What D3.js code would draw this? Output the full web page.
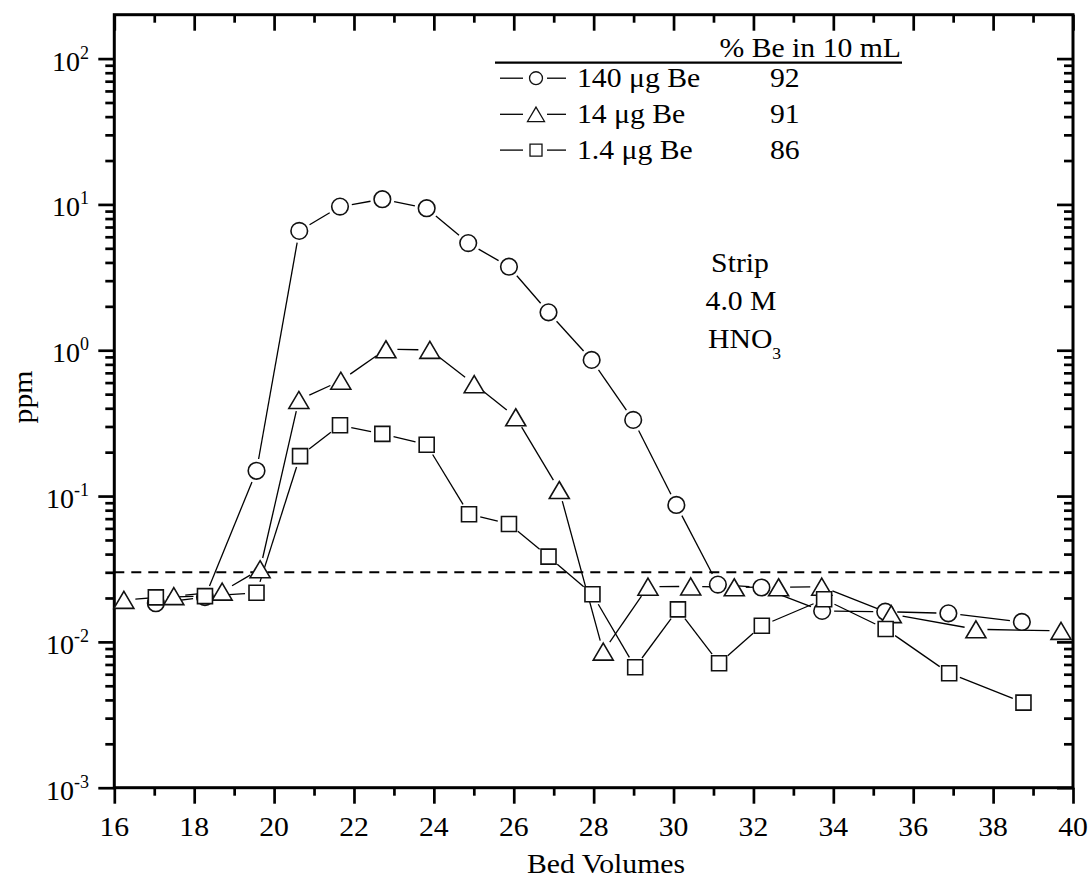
<!DOCTYPE html>
<html>
<head>
<meta charset="utf-8">
<script src="https://cdn.jsdelivr.net/npm/d3@7"></script>
<style>
  body { margin: 0; background: #fff; }
  svg { display: block; }
  text { font-family: "Liberation Serif", "Times New Roman", Times, serif; fill: #000; }
</style>
</head>
<body>
<svg id="chart" width="1091" height="880"></svg>
<script>
// Bed volumes and Be concentration (ppm) for each loading
const bedVolumes140 = [17.04, 18.27, 19.56, 20.63, 21.65, 22.71, 23.82, 24.86, 25.88, 26.87, 27.95, 28.99, 30.07, 31.11, 32.20, 33.72, 35.30, 36.88, 38.72];
const ppm140        = [0.0184, 0.0203, 0.149, 6.58, 9.66, 10.86, 9.42, 5.43, 3.74, 1.82, 0.858, 0.333, 0.0869, 0.0247, 0.0236, 0.0163, 0.0161, 0.0157, 0.0137];

const bedVolumes14  = [16.24, 17.49, 18.70, 19.65, 20.62, 21.67, 22.80, 23.90, 25.01, 26.05, 27.14, 28.24, 29.36, 30.43, 31.52, 32.63, 33.71, 35.45, 37.57, 39.70];
const ppm14         = [0.0194, 0.0206, 0.0221, 0.0315, 0.456, 0.618, 1.016, 1.005, 0.585, 0.347, 0.110, 0.00857, 0.0239, 0.0240, 0.0237, 0.0237, 0.0239, 0.0155, 0.0122, 0.0119];

const bedVolumes1_4 = [17.04, 18.27, 19.56, 20.65, 21.65, 22.71, 23.82, 24.88, 25.88, 26.87, 27.97, 29.04, 30.11, 31.14, 32.21, 33.77, 35.31, 36.90, 38.76];
const ppm1_4        = [0.0202, 0.0206, 0.0217, 0.188, 0.306, 0.267, 0.225, 0.0750, 0.0644, 0.0384, 0.0212, 0.0067, 0.0167, 0.00713, 0.0129, 0.0196, 0.01225, 0.0061, 0.00383];

// Detection limit line
const detectionLimit = 0.03;

// Legend content
const seriesLabels = ["140 μg Be", "14 μg Be", "1.4 μg Be"];
const recoveries   = ["92", "91", "86"];
const legendHeader = "% Be in 10 mL";
const stripLines   = ["Strip", "4.0 M"];

// Axis ticks
const xTicksMajor = [16, 18, 20, 22, 24, 26, 28, 30, 32, 34, 36, 38, 40];
const xTicksMinor = [17, 19, 21, 23, 25, 27, 29, 31, 33, 35, 37, 39];
const yDecades    = [1e-3, 1e-2, 1e-1, 1, 10, 100];
const yExponents  = ["-3", "-2", "-1", "0", "1", "2"];

const svg = d3.select("#chart");
const plotL = 114.3, plotR = 1073, plotT = 14.7, plotB = 787.7;

const x = d3.scaleLinear().domain([16, 40]).range([plotL, plotR]);
const y = d3.scaleLog().domain([1e-3, 200]).range([plotB, plotT]);

// minor log ticks (2..9 within each decade, inside the domain)
const yMinor = [];
yDecades.forEach(d => {
  for (let m = 2; m <= 9; m++) {
    const v = d * m;
    if (v < 200 * 0.999) yMinor.push(v);
  }
});

const SX = 1.1;
function label(g, str, px, py, size, anchor) {
  return g.append("text")
    .attr("transform", `translate(${px},${py}) scale(${SX},1)`)
    .attr("text-anchor", anchor)
    .attr("font-size", size)
    .text(str);
}

// ---- axes ----
const axisW = 2.7;
function styleAxis(g) {
  g.select(".domain").remove();
  g.selectAll(".tick line").attr("stroke", "#000").attr("stroke-width", axisW);
  g.selectAll(".tick text").remove();
}

svg.append("g").attr("transform", `translate(0,${plotB})`)
  .call(d3.axisBottom(x).tickValues(xTicksMajor).tickSize(16)).call(styleAxis);
svg.append("g").attr("transform", `translate(0,${plotB})`)
  .call(d3.axisBottom(x).tickValues(xTicksMinor).tickSize(8)).call(styleAxis);
svg.append("g").attr("transform", `translate(0,${plotT})`)
  .call(d3.axisTop(x).tickValues(xTicksMajor).tickSize(-16)).call(styleAxis);
svg.append("g").attr("transform", `translate(0,${plotT})`)
  .call(d3.axisTop(x).tickValues(xTicksMinor).tickSize(-8)).call(styleAxis);

svg.append("g").attr("transform", `translate(${plotL},0)`)
  .call(d3.axisLeft(y).tickValues(yDecades).tickSize(16)).call(styleAxis);
svg.append("g").attr("transform", `translate(${plotL},0)`)
  .call(d3.axisLeft(y).tickValues(yMinor).tickSize(9)).call(styleAxis);
svg.append("g").attr("transform", `translate(${plotR},0)`)
  .call(d3.axisRight(y).tickValues(yDecades).tickSize(-16)).call(styleAxis);
svg.append("g").attr("transform", `translate(${plotR},0)`)
  .call(d3.axisRight(y).tickValues(yMinor).tickSize(-9)).call(styleAxis);

// frame
svg.append("rect")
  .attr("x", plotL).attr("y", plotT)
  .attr("width", plotR - plotL).attr("height", plotB - plotT)
  .attr("fill", "none").attr("stroke", "#000").attr("stroke-width", 3);

// tick labels
const tickLabels = svg.append("g");
xTicksMajor.forEach(v => label(tickLabels, String(v), x(v), plotB + 48, 27, "middle"));

yDecades.forEach((v, i) => {
  const t = tickLabels.append("text")
    .attr("x", 89).attr("y", y(v) + 12)
    .attr("text-anchor", "end");
  t.append("tspan").attr("font-size", 28).text("10");
  t.append("tspan").attr("font-size", 18).attr("dy", -12).text(yExponents[i]);
});

// axis titles
label(svg, "Bed Volumes", 606, 873, 27, "middle");
svg.append("text")
  .attr("transform", `translate(32,397) rotate(-90) scale(${SX},1)`)
  .attr("text-anchor", "middle").attr("font-size", 27).text("ppm");

// detection limit
svg.append("line")
  .attr("x1", plotL).attr("x2", plotR)
  .attr("y1", y(detectionLimit)).attr("y2", y(detectionLimit))
  .attr("stroke", "#000").attr("stroke-width", 2)
  .attr("stroke-dasharray", "10,7");

// ---- series ----
function segments(xs, ys, gap) {
  const pts = xs.map((v, i) => [x(v), y(ys[i])]);
  const segs = [];
  for (let i = 0; i < pts.length - 1; i++) {
    const [x1, y1] = pts[i], [x2, y2] = pts[i + 1];
    const dx = x2 - x1, dy = y2 - y1, d = Math.hypot(dx, dy);
    if (d <= 2 * gap) continue;
    const ux = dx / d, uy = dy / d;
    segs.push([x1 + ux * gap, y1 + uy * gap, x2 - ux * gap, y2 - uy * gap]);
  }
  return segs;
}

const series = [
  { xs: bedVolumes140, ys: ppm140, shape: "circle", gap: 12 },
  { xs: bedVolumes14,  ys: ppm14,  shape: "triangle", gap: 11.5 },
  { xs: bedVolumes1_4, ys: ppm1_4, shape: "square", gap: 11.5 }
];

function markerPath(shape, s) {
  if (shape === "circle") {
    const r = 8.3 * s;
    return `M${-r},0A${r},${r} 0 1,0 ${r},0A${r},${r} 0 1,0 ${-r},0Z`;
  }
  if (shape === "triangle") {
    const w = 20 * s, h = 17 * s;
    return `M0,${-h / 2}L${w / 2},${h / 2}L${-w / 2},${h / 2}Z`;
  }
  const a = 7.5 * s;
  return `M${-a},${-a}H${a}V${a}H${-a}Z`;
}

const linesG = svg.append("g");
series.forEach(s => {
  linesG.selectAll(null)
    .data(segments(s.xs, s.ys, s.gap))
    .join("line")
    .attr("x1", d => d[0]).attr("y1", d => d[1])
    .attr("x2", d => d[2]).attr("y2", d => d[3])
    .attr("stroke", "#000").attr("stroke-width", 1.3);
});

series.forEach(s => {
  svg.append("g").selectAll("path")
    .data(s.xs.map((v, i) => [v, s.ys[i]]))
    .join("path")
    .attr("transform", d => `translate(${x(d[0])},${y(d[1])})`)
    .attr("d", markerPath(s.shape, 1))
    .attr("fill", "#fff").attr("stroke", "#111").attr("stroke-width", 1.6);
});

// ---- legend ----
const legend = svg.append("g");
label(legend, legendHeader, 901, 57, 27, "end");
legend.append("line")
  .attr("x1", 495).attr("x2", 902).attr("y1", 62.7).attr("y2", 62.7)
  .attr("stroke", "#000").attr("stroke-width", 2.2);

const rowBase = [86.7, 122.8, 158.6];
series.forEach((s, i) => {
  const cy = rowBase[i] - 8.5;
  legend.append("line").attr("x1", 500).attr("x2", 523).attr("y1", cy).attr("y2", cy)
    .attr("stroke", "#000").attr("stroke-width", 1.3);
  legend.append("line").attr("x1", 547).attr("x2", 566).attr("y1", cy).attr("y2", cy)
    .attr("stroke", "#000").attr("stroke-width", 1.3);
  legend.append("path")
    .attr("transform", `translate(536,${cy})`)
    .attr("d", markerPath(s.shape, s.shape === "circle" ? 0.78 : (s.shape === "triangle" ? 0.85 : 0.8)))
    .attr("fill", "#fff").attr("stroke", "#111").attr("stroke-width", 1.3);
  label(legend, seriesLabels[i], 577, rowBase[i], 27, "start");
  label(legend, recoveries[i], 770, rowBase[i], 27, "start");
});

// ---- strip conditions ----
const note = svg.append("g");
label(note, stripLines[0], 740, 271.7, 27, "middle");
label(note, stripLines[1], 741, 310, 27, "middle");
const hno = note.append("text")
  .attr("transform", `translate(708,348.3) scale(${SX},1)`)
  .attr("text-anchor", "start");
hno.append("tspan").attr("font-size", 27).text("HNO");
hno.append("tspan").attr("font-size", 16).attr("dy", 11).text("3");
</script>
</body>
</html>
